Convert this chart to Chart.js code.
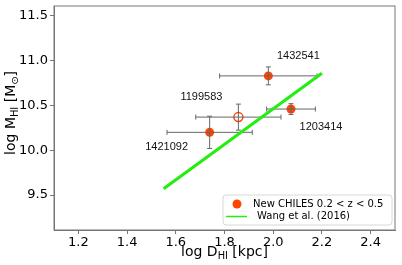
<!DOCTYPE html>
<html>
<head>
<meta charset="utf-8">
<script src="https://cdn.jsdelivr.net/npm/chart.js@4"></script>
<style>
  html, body { margin: 0; padding: 0; background: #fff; }
  #wrap { width: 402px; height: 265px; }
</style>
</head>
<body>
<div id="wrap"><canvas id="myChart" width="402" height="265"></canvas></div>
<script>
// --- Data ---
const names = ['1432541', '1199583', '1203414', '1421092'];
const logD = [1.98, 1.857, 2.073, 1.739];
const logM = [10.83, 10.37, 10.46, 10.20];
const dErr = [0.20, 0.175, 0.10, 0.175];
const mErr = [0.10, 0.145, 0.06, 0.18];
const isOpen = [false, true, false, false];

const wangD = [1.55, 2.2];
const wangM = [9.57, 10.86];

const xTicks = [1.2, 1.4, 1.6, 1.8, 2.0, 2.2, 2.4];
const yTicks = [9.5, 10.0, 10.5, 11.0, 11.5];

const RED = '#ff4500';
const GREEN = '#22ee11';

// label offsets in pixels from each point
const labelOffsets = [[30, -20], [-37, -20], [30, 18], [-43, 15]];

const ctx = document.getElementById('myChart').getContext('2d');

// draw text with a subscript part: parts = [[text, isSub], ...]
function subText(c, parts, size) {
  let w = 0;
  parts.forEach(p => {
    c.font = (p[1] ? size * 0.7 : size) + 'px "DejaVu Sans"';
    w += c.measureText(p[0]).width;
  });
  return w;
}
function drawSubText(c, parts, size, x, y) {
  let w = subText(c, parts, size);
  let cx = x - w / 2;
  c.textAlign = 'left';
  c.textBaseline = 'alphabetic';
  parts.forEach(p => {
    c.font = (p[1] ? size * 0.7 : size) + 'px "DejaVu Sans"';
    c.fillText(p[0], cx, p[1] ? y + size * 0.2 : y);
    cx += c.measureText(p[0]).width;
  });
}

const errorBars = {
  id: 'errorBars',
  afterDatasetDraw(chart, args) {
    if (args.index !== 0) return;
    const c = chart.ctx, xs = chart.scales.x, ys = chart.scales.y;
    c.save();
    c.strokeStyle = '#666';
    c.lineWidth = 1;
    logD.forEach((d, i) => {
      const px = xs.getPixelForValue(d), py = ys.getPixelForValue(logM[i]);
      const x0 = xs.getPixelForValue(d - dErr[i]), x1 = xs.getPixelForValue(d + dErr[i]);
      const y0 = ys.getPixelForValue(logM[i] - mErr[i]), y1 = ys.getPixelForValue(logM[i] + mErr[i]);
      c.beginPath();
      c.moveTo(x0, py); c.lineTo(x1, py);
      c.moveTo(px, y0); c.lineTo(px, y1);
      c.moveTo(x0, py - 2.5); c.lineTo(x0, py + 2.5);
      c.moveTo(x1, py - 2.5); c.lineTo(x1, py + 2.5);
      c.moveTo(px - 2.5, y0); c.lineTo(px + 2.5, y0);
      c.moveTo(px - 2.5, y1); c.lineTo(px + 2.5, y1);
      c.stroke();
    });
    c.restore();
  }
};

const extras = {
  id: 'extras',
  afterDraw(chart) {
    const c = chart.ctx, a = chart.chartArea, xs = chart.scales.x, ys = chart.scales.y;
    c.save();
    // frame
    c.strokeStyle = '#777';
    c.lineWidth = 1;
    c.strokeRect(a.left, a.top, a.right - a.left, a.bottom - a.top);

    // point labels
    c.fillStyle = '#111';
    c.font = '11px "Liberation Sans", Arial, sans-serif';
    c.textAlign = 'center';
    c.textBaseline = 'middle';
    names.forEach((n, i) => {
      const px = xs.getPixelForValue(logD[i]), py = ys.getPixelForValue(logM[i]);
      c.fillText(n, px + labelOffsets[i][0], py + labelOffsets[i][1]);
    });

    // axis titles
    c.fillStyle = '#000';
    drawSubText(c, [['log D', false], ['HI', true], [' [kpc]', false]], 14, (a.left + a.right) / 2, 256);
    c.save();
    c.translate(15, (a.top + a.bottom) / 2 - 5);
    c.rotate(-Math.PI / 2);
    drawSubText(c, [['log M', false], ['HI', true], [' [M', false], ['\u2299', true], [']', false]], 14, 0, 0);
    c.restore();

    // legend
    const lx = 223, ly = 195, lw = 169, lh = 30;
    c.fillStyle = 'rgba(255,255,255,0.85)';
    c.strokeStyle = '#d8d8d8';
    c.beginPath();
    c.roundRect(lx, ly, lw, lh, 3);
    c.fill();
    c.stroke();
    c.fillStyle = RED;
    c.beginPath();
    c.arc(237, 204, 4.5, 0, Math.PI * 2);
    c.fill();
    c.strokeStyle = GREEN;
    c.lineWidth = 1.5;
    c.beginPath();
    c.moveTo(226, 216.5); c.lineTo(247, 216.5);
    c.stroke();
    c.fillStyle = '#000';
    c.font = '10px "DejaVu Sans"';
    c.textAlign = 'left';
    c.textBaseline = 'middle';
    c.fillText('New CHILES 0.2 < z < 0.5', 253, 204.5);
    c.fillText('Wang et al. (2016)', 257, 216.5);
    c.restore();
  }
};

let chart = new Chart(ctx, {
  type: 'scatter',
  data: {
    datasets: [
      {
        label: 'New CHILES 0.2 < z < 0.5',
        data: logD.map((d, i) => ({ x: d, y: logM[i] })),
        backgroundColor: isOpen.map(o => o ? '#fff' : RED),
        borderColor: RED,
        borderWidth: isOpen.map(o => o ? 1.5 : 0),
        pointRadius: 4.5,
        pointHoverRadius: 4.5,
        order: 2
      },
      {
        label: 'Wang et al. (2016)',
        data: wangD.map((d, i) => ({ x: d, y: wangM[i] })),
        showLine: true,
        borderColor: GREEN,
        borderWidth: 3,
        pointRadius: 0,
        fill: false,
        order: 1
      }
    ]
  },
  options: {
    responsive: false,
    animation: false,
    layout: { padding: { top: 5, right: 7, left: 0, bottom: 0 } },
    plugins: { legend: { display: false }, tooltip: { enabled: false } },
    scales: {
      x: {
        min: 1.1, max: 2.5,
        afterBuildTicks: s => { s.ticks = xTicks.map(v => ({ value: v })); },
        afterFit: s => { s.height = 35; s.paddingLeft = 0; s.paddingRight = 0; },
        grid: { display: true, drawOnChartArea: false, drawTicks: true, tickLength: 4, color: '#777' },
        border: { color: '#777' },
        ticks: { color: '#000', font: { family: 'DejaVu Sans', size: 13 }, padding: 1,
                 callback: v => v.toFixed(1) }
      },
      y: {
        min: 9.11, max: 11.61,
        afterBuildTicks: s => { s.ticks = yTicks.map(v => ({ value: v })); },
        afterFit: s => { s.width = 54; s.paddingTop = 0; s.paddingBottom = 0; },
        grid: { display: true, drawOnChartArea: false, drawTicks: true, tickLength: 4, color: '#777' },
        border: { color: '#777' },
        ticks: { color: '#000', font: { family: 'DejaVu Sans', size: 13 }, padding: 2,
                 callback: v => v.toFixed(1) }
      }
    }
  },
  plugins: [errorBars, extras]
});
</script>
</body>
</html>
